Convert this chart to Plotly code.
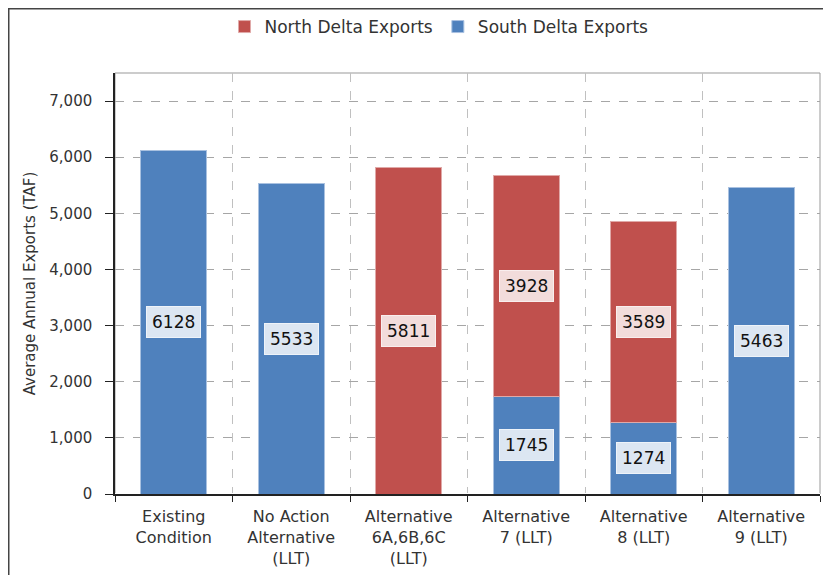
import plotly.graph_objects as go

categories = ["Existing<br>Condition", "No Action<br>Alternative<br>(LLT)", "Alternative<br>6A,6B,6C<br>(LLT)",
              "Alternative<br>7 (LLT)", "Alternative<br>8 (LLT)", "Alternative<br>9 (LLT)"]
south_delta = [6128, 5533, None, 1745, 1274, 5463]
north_delta = [None, None, 5811, 3928, 3589, None]
y_ticks = [0, 1000, 2000, 3000, 4000, 5000, 6000, 7000]

BLUE = "#4f81bd"
RED = "#c0504d"
FONT = "DejaVu Sans, Liberation Sans, Arial"

W, H = 831, 575
ML, MR, MT, MB = 107, 19, 65, 89
PW, PH = W - ML - MR, H - MT - MB

fig = go.Figure()
fig.add_trace(go.Bar(x=categories, y=south_delta, name="South Delta Exports",
                     marker=dict(color=BLUE, line=dict(color="#a9c1e0", width=1))))
fig.add_trace(go.Bar(x=categories, y=north_delta, name="North Delta Exports",
                     marker=dict(color=RED, line=dict(color="#e0a9a8", width=1))))

annotations = []
for c, s, n in zip(categories, south_delta, north_delta):
    base = s or 0
    if s:
        annotations.append(dict(x=c, y=s / 2, text=str(s), showarrow=False,
                                bgcolor="#dce6f2", bordercolor="#eef3f9", borderwidth=1, borderpad=5,
                                font=dict(size=17, color="#111", family=FONT)))
    if n:
        annotations.append(dict(x=c, y=base + n / 2, text=str(n), showarrow=False,
                                bgcolor="#f2dcdb", bordercolor="#f9eeee", borderwidth=1, borderpad=5,
                                font=dict(size=17, color="#111", family=FONT)))

fig.update_layout(
    width=W, height=H,
    barmode="stack", bargap=0.44,
    paper_bgcolor="white", plot_bgcolor="white",
    margin=dict(l=ML, r=MR, t=MT, b=MB, autoexpand=False),
    font=dict(family=FONT, size=14, color="#333"),
    legend=dict(orientation="h", x=431 / W, xref="container", xanchor="center",
                y=1 - 19 / H, yref="container", yanchor="middle",
                traceorder="reversed", bgcolor="rgba(0,0,0,0)",
                font=dict(size=17, color="#333", family=FONT)),
    annotations=annotations,
    shapes=[dict(type="rect", xref="paper", yref="paper",
                 x0=(0.75 - ML) / PW, x1=2, y0=-0.5, y1=1 + (MT - 0.75) / PH,
                 line=dict(color="#444", width=1.5), fillcolor="rgba(0,0,0,0)", layer="below"),
            dict(type="rect", xref="paper", yref="paper", x0=0, x1=1, y0=0, y1=1,
                 line=dict(color="#999", width=1), fillcolor="rgba(0,0,0,0)", layer="below")],
    showlegend=True,
)
fig.update_xaxes(showline=True, linecolor="#222", linewidth=1.5, mirror=False,
                 tickson="boundaries", ticks="outside", ticklen=6, tickcolor="#222",
                 ticklabelstandoff=7,
                 showgrid=True, gridcolor="#c0c0c0", griddash="dash", gridwidth=1,
                 tickfont=dict(size=16, color="#333", family=FONT))
fig.update_yaxes(range=[0, 7500], tickvals=y_ticks, tickformat=",d",
                 showline=True, linecolor="#222", linewidth=1.5,
                 ticks="outside", ticklen=8, tickcolor="#222", ticklabelstandoff=10,
                 showgrid=True, gridcolor="#a6a6a6", griddash="dash", gridwidth=1,
                 tickfont=dict(size=15, color="#333", family=FONT),
                 title=dict(text="Average Annual Exports (TAF)", font=dict(size=15, color="#333", family=FONT), standoff=10))

fig.write_html("out.html")
